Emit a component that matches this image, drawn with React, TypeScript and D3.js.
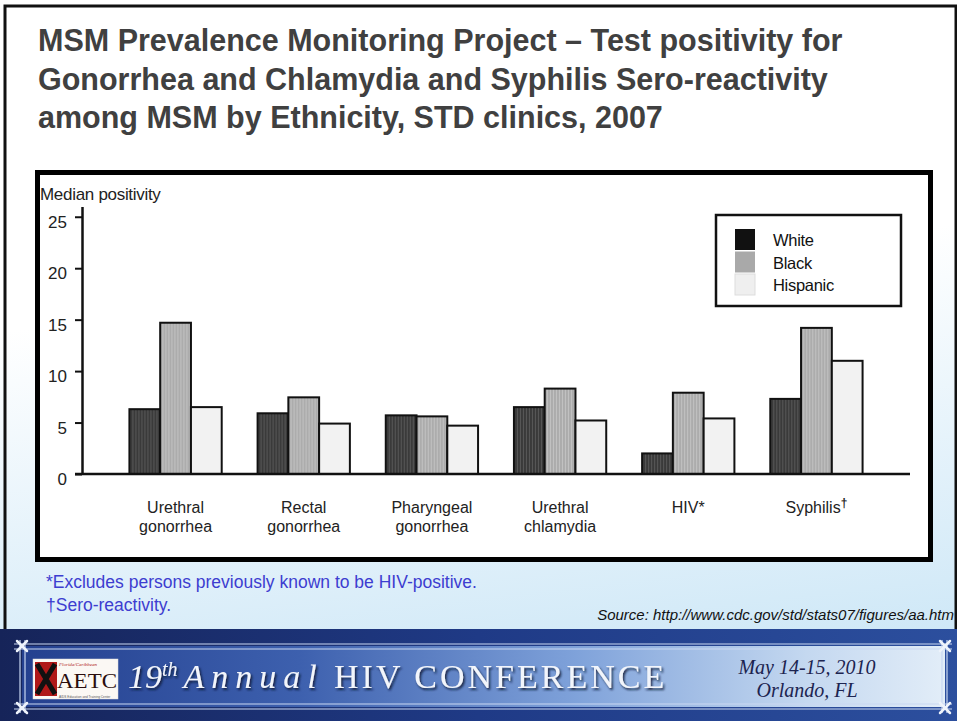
import React, { useEffect, useRef } from 'react';
import * as d3 from 'd3';

// chart values
const categories = ['Urethral gonorrhea', 'Rectal gonorrhea', 'Pharyngeal gonorrhea', 'Urethral chlamydia', 'HIV*', 'Syphilis'];
const categoryLines = [['Urethral', 'gonorrhea'], ['Rectal', 'gonorrhea'], ['Pharyngeal', 'gonorrhea'], ['Urethral', 'chlamydia'], ['HIV*'], ['Syphilis']];
const groups = ['White', 'Black', 'Hispanic'];
const whiteValues = [6.3, 5.9, 5.7, 6.5, 2.0, 7.3];
const blackValues = [14.7, 7.45, 5.6, 8.3, 7.9, 14.2];
const hispanicValues = [6.5, 4.9, 4.7, 5.2, 5.4, 11.0];
const yTicks = [0, 5, 10, 15, 20, 25];

const titleLines = [
  'MSM Prevalence Monitoring Project \u2013 Test positivity for',
  'Gonorrhea and Chlamydia and Syphilis Sero-reactivity',
  'among MSM by Ethnicity, STD clinics, 2007',
];
const footnotes = ['*Excludes persons previously known to be HIV-positive.', '\u2020Sero-reactivity.'];
const source = 'Source: http://www.cdc.gov/std/stats07/figures/aa.htm';

const barFills = ['url(#pWhite)', 'url(#pBlack)', '#f2f2f2'];
const swatchFills = ['#111111', '#a9a9a9', '#efefef'];

const SANS = '"Liberation Sans", Arial, sans-serif';
const SERIF = '"Liberation Serif", "Times New Roman", serif';

const App = () => {
  const chartRef = useRef<SVGGElement>(null);

  useEffect(() => {
    const g = d3.select(chartRef.current);
    g.selectAll('*').remove();

    const y = d3.scaleLinear().domain([0, 26]).range([474, 474 - 26 * 10.29]);
    const x0 = d3.scaleBand().domain(categories).range([82, 910]).paddingInner(0.28).paddingOuter(0.37);
    const x1 = d3.scaleBand().domain(groups).range([0, x0.bandwidth()]);
    const series = [whiteValues, blackValues, hispanicValues];

    // bars
    categories.forEach((cat, ci) => {
      const cg = g.append('g').attr('transform', `translate(${x0(cat)},0)`);
      cg.selectAll('rect')
        .data(groups)
        .enter()
        .append('rect')
        .attr('x', d => x1(d))
        .attr('y', (d, gi) => y(series[gi][ci]))
        .attr('width', x1.bandwidth())
        .attr('height', (d, gi) => y(0) - y(series[gi][ci]))
        .attr('fill', (d, gi) => barFills[gi])
        .attr('stroke', '#111')
        .attr('stroke-width', 2);
    });

    // y axis
    const yAxis = g.append('g')
      .attr('transform', `translate(${x0.range()[0]},0)`)
      .call(d3.axisLeft(y).tickValues(yTicks).tickSize(7).tickSizeOuter(0).tickPadding(8));
    yAxis.select('.domain').attr('stroke', '#111').attr('stroke-width', 2.5);
    yAxis.selectAll('.tick line').attr('stroke', '#111').attr('stroke-width', 2);
    yAxis.selectAll('.tick text')
      .attr('font-family', SANS)
      .attr('font-size', 17)
      .attr('fill', '#222')
      .attr('dy', '0.62em');

    // x axis baseline
    g.append('line')
      .attr('x1', x0.range()[0] - 7)
      .attr('x2', x0.range()[1])
      .attr('y1', y(0))
      .attr('y2', y(0))
      .attr('stroke', '#111')
      .attr('stroke-width', 2.5);

    // category labels
    categories.forEach((cat, ci) => {
      const t = g.append('text')
        .attr('x', x0(cat) + x0.bandwidth() / 2)
        .attr('y', y(0) + 39)
        .attr('text-anchor', 'middle')
        .attr('font-family', SANS)
        .attr('font-size', 16)
        .attr('fill', '#222');
      categoryLines[ci].forEach((line, li) => {
        t.append('tspan')
          .attr('x', x0(cat) + x0.bandwidth() / 2)
          .attr('dy', li === 0 ? 0 : 19)
          .text(line);
      });
      if (cat === 'Syphilis') {
        t.append('tspan').attr('dy', -6).attr('font-size', 12).attr('font-weight', 'bold').text('\u2020');
      }
    });

    // y title
    g.append('text')
      .attr('x', 40)
      .attr('y', 200)
      .attr('font-family', SANS)
      .attr('font-size', 17)
      .attr('fill', '#222')
      .attr('letter-spacing', -0.3)
      .text('Median positivity');

    // legend
    const legend = g.append('g').attr('transform', 'translate(716,215)');
    legend.append('rect')
      .attr('width', 185)
      .attr('height', 91)
      .attr('fill', '#fff')
      .attr('stroke', '#111')
      .attr('stroke-width', 2.5);
    const items = legend.selectAll('g.item')
      .data(groups)
      .enter()
      .append('g')
      .attr('class', 'item')
      .attr('transform', (d, i) => `translate(19,${14 + i * 22.5})`);
    items.append('rect')
      .attr('width', 20)
      .attr('height', 21)
      .attr('fill', (d, i) => swatchFills[i])
      .attr('stroke', (d, i) => (i === 2 ? '#ddd' : 'none'));
    items.append('text')
      .attr('x', 38)
      .attr('y', 17)
      .attr('font-family', SANS)
      .attr('font-size', 16.5)
      .attr('fill', '#111')
      .attr('letter-spacing', -0.3)
      .text(d => d);
  }, []);

  return (
    <svg width={957} height={721} style={{ position: 'absolute', left: 0, top: 0 }}>
      <defs>
        <linearGradient id="slideBg" x1="0" y1="0" x2="0.15" y2="1">
          <stop offset="0" stopColor="#ffffff" />
          <stop offset="0.45" stopColor="#ffffff" />
          <stop offset="1" stopColor="#cfe8f7" />
        </linearGradient>
        <linearGradient id="bannerBg" x1="0" y1="0" x2="1" y2="0">
          <stop offset="0" stopColor="#162459" />
          <stop offset="0.5" stopColor="#1f3a86" />
          <stop offset="1" stopColor="#2c4f9e" />
        </linearGradient>
        <linearGradient id="bandBg" x1="0" y1="0" x2="1" y2="0">
          <stop offset="0" stopColor="#24408f" />
          <stop offset="0.3" stopColor="#3d60ae" />
          <stop offset="0.6" stopColor="#7fa2da" />
          <stop offset="0.85" stopColor="#c4d8f0" />
          <stop offset="1" stopColor="#e2edf8" />
        </linearGradient>
        <pattern id="pWhite" width="3" height="10" patternUnits="userSpaceOnUse">
          <rect width="3" height="10" fill="#3a3a3a" />
          <rect width="1" height="10" fill="#585858" />
        </pattern>
        <pattern id="pBlack" width="3" height="10" patternUnits="userSpaceOnUse">
          <rect width="3" height="10" fill="#acacac" />
          <rect width="1" height="10" fill="#c2c2c2" />
        </pattern>
        <filter id="txtShadow" x="-5%" y="-20%" width="110%" height="150%">
          <feDropShadow dx="1.5" dy="2" stdDeviation="0.8" floodColor="#0a1230" floodOpacity="0.9" />
        </filter>
      </defs>

      {/* slide background and border */}
      <rect x={0} y={0} width={957} height={721} fill="url(#slideBg)" />
      <rect x={5} y={6} width={951} height={640} fill="none" stroke="#111" strokeWidth={3} />

      {/* title */}
      <text fontFamily={SANS} fontWeight="bold" fontSize={30.5} fill="#404040">
        {titleLines.map((line, i) => (
          <tspan key={i} x={38} y={51 + i * 38.5}>{line}</tspan>
        ))}
      </text>

      {/* chart frame */}
      <rect x={37.5} y={172.5} width={893} height={387} fill="#fff" stroke="#000" strokeWidth={5} />
      <g ref={chartRef} />

      {/* footnotes */}
      <text fontFamily={SANS} fontSize={17.5} fill="#3d3dd0">
        {footnotes.map((f, i) => (
          <tspan key={i} x={46} y={588 + i * 23}>{f}</tspan>
        ))}
      </text>
      <text x={954} y={620} textAnchor="end" fontFamily={SANS} fontStyle="italic" fontSize={15} fill="#111">
        {source}
      </text>

      {/* conference banner */}
      <rect x={0} y={629} width={957} height={92} fill="url(#bannerBg)" />
      <rect x={22} y={646} width={923} height={61} fill="url(#bandBg)" />
      <g stroke="#c9d8f2" strokeWidth={1.2} fill="none">
        <line x1={14} x2={952} y1={644} y2={644} />
        <line x1={14} x2={952} y1={649} y2={649} />
        <line x1={14} x2={952} y1={704} y2={704} />
        <line x1={14} x2={952} y1={709} y2={709} />
        <line x1={20} x2={20} y1={640} y2={713} />
        <line x1={25} x2={25} y1={640} y2={713} />
        <line x1={942} x2={942} y1={640} y2={713} />
        <line x1={947} x2={947} y1={640} y2={713} />
      </g>
      <g stroke="#eef3fb" strokeWidth={2.5} strokeLinecap="round">
        {[[22, 646], [22, 708], [945, 646], [945, 708]].map(([cx, cy], i) => (
          <g key={i}>
            <line x1={cx - 5} y1={cy - 5} x2={cx + 5} y2={cy + 5} />
            <line x1={cx - 5} y1={cy + 5} x2={cx + 5} y2={cy - 5} />
          </g>
        ))}
      </g>

      {/* AETC logo */}
      <rect x={33} y={659} width={85} height={40} fill="#fbf8f4" stroke="#ddd" strokeWidth={0.5} />
      <rect x={35} y={662} width={22} height={34} fill="#b01818" />
      <path d="M37,664 L55,694 M55,664 L37,694" stroke="#111" strokeWidth={5} />
      <text x={59} y={666} fontFamily={SERIF} fontStyle="italic" fontSize={5} fill="#b01818">Florida/Caribbean</text>
      <text x={57} y={688} fontFamily={SERIF} fontSize={22} fill="#2a0d0d" textLength={60} lengthAdjust="spacingAndGlyphs">AETC</text>
      <text x={59} y={697.5} fontFamily={SANS} fontSize={3.2} fill="#555">AIDS Education and Training Center</text>

      <g filter="url(#txtShadow)" fill="#f2f5fb">
        <text x={128} y={688} fontFamily={SERIF} fontStyle="italic" fontSize={34}>
          19<tspan dy={-12} fontSize={20}>th</tspan>
          <tspan dy={12} dx={6} letterSpacing={7}>Annual</tspan>
        </text>
        <text x={334} y={688} fontFamily={SERIF} fontSize={34} letterSpacing={3}>HIV CONFERENCE</text>
      </g>
      <text x={807} y={674} textAnchor="middle" fontFamily={SERIF} fontStyle="italic" fontSize={20} fill="#1c2450">May 14-15, 2010</text>
      <text x={807} y={697} textAnchor="middle" fontFamily={SERIF} fontStyle="italic" fontSize={20} fill="#1c2450">Orlando, FL</text>
    </svg>
  );
};

export default App;
